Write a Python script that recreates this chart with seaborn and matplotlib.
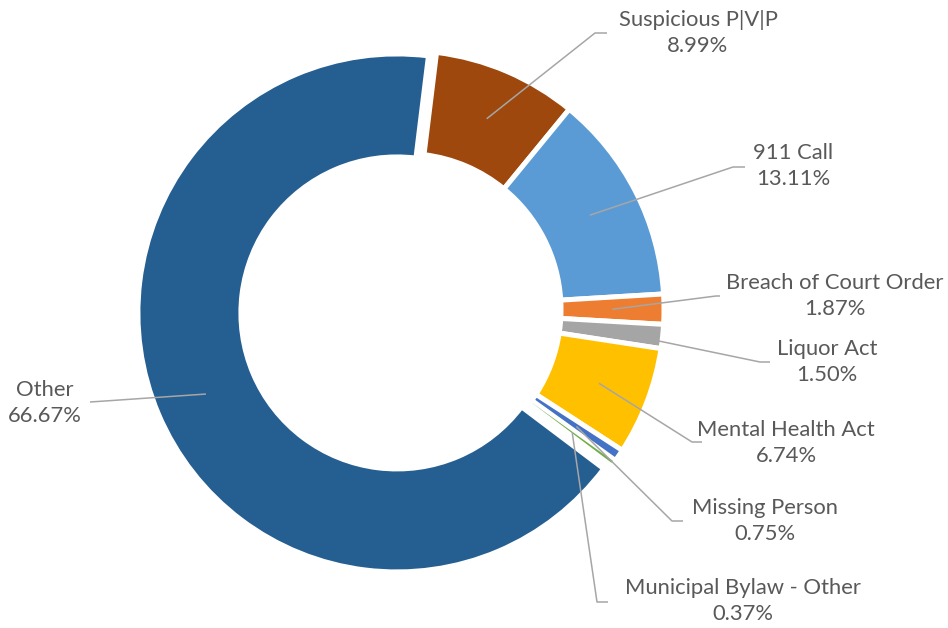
import numpy as np
import matplotlib
matplotlib.use("Agg")
import matplotlib.pyplot as plt
import seaborn as sns

categories = ["Suspicious P|V|P", "911 Call", "Breach of Court Order", "Liquor Act",
              "Mental Health Act", "Missing Person", "Municipal Bylaw - Other", "Other"]
shares = [8.99, 13.11, 1.87, 1.50, 6.74, 0.75, 0.37, 66.67]
colors = ["#9E480E", "#5B9BD5", "#ED7D31", "#A5A5A5",
          "#FFC000", "#4472C4", "#70AD47", "#255E91"]

# label layout, pixel coords measured from the top-left corner
label_xy = [(698, 33), (793, 166), (835, 296), (827, 362),
            (786, 443), (765, 521), (743, 601), (45, 403)]
elbow_xy = [(595, 33), (733, 167), (716, 296), (760, 362),
            (692, 442), (672, 521), (597, 602), (105, 401)]
end_xy = [(607, 33), (745, 167), (720, 296), (770, 362),
          (702, 442), (683, 521), (608, 602), (90, 402)]

W, H = 948, 628
sns.set_theme(style="white")
plt.rcParams["font.family"] = ["Lato", "DejaVu Sans"]

fig = plt.figure(figsize=(W / 100, H / 100), dpi=100)
ax = fig.add_axes([0, 0, 1, 1])

R_out, ring = 259, 103
explode = [0] * 7 + [8.8]  # pull "Other" out a little (data units = px)
wedges, _ = ax.pie(shares, colors=colors, explode=explode, startangle=83,
                   counterclock=False, radius=R_out, center=(405, H - 309.5),
                   wedgeprops=dict(width=ring, edgecolor="white", linewidth=3.6))
# thinnest slice would vanish under the white border
wedges[6].set_linewidth(2.6)
ax.set_xlim(0, W)
ax.set_ylim(0, H)
ax.set_aspect("equal")
ax.axis("off")

r_mid = R_out - ring / 2
for w, name, val, lab, elb, end in zip(wedges, categories, shares, label_xy, elbow_xy, end_xy):
    ang = np.deg2rad((w.theta1 + w.theta2) / 2)
    cx, cy = w.center
    x0, y0 = cx + r_mid * np.cos(ang), cy + r_mid * np.sin(ang)
    ax.plot([x0, elb[0], end[0]], [y0, H - elb[1], H - end[1]],
            color="#A6A6A6", lw=1.1, solid_capstyle="butt")
    ax.text(lab[0], H - lab[1], f"{name}\n{val:.2f}%", ha="center", va="center",
            fontsize=15.8, color="#595959", linespacing=1.38)

fig.savefig("out.png", dpi=100)
